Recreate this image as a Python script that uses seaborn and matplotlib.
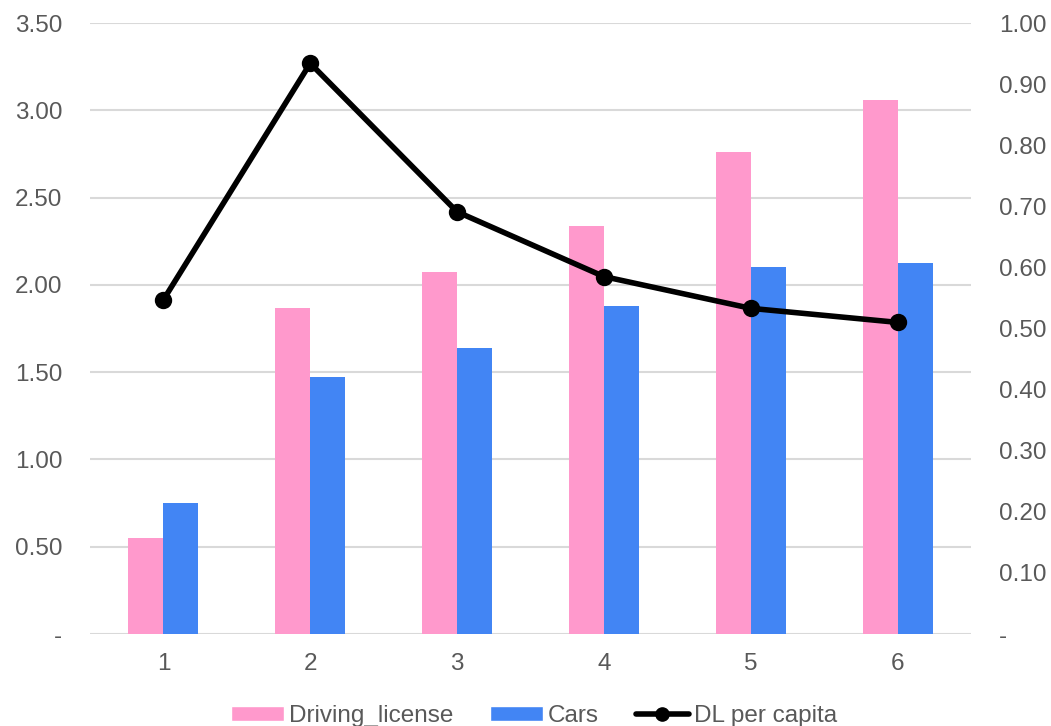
import matplotlib
matplotlib.use("Agg")
import matplotlib.pyplot as plt
import seaborn as sns
import pandas as pd
from matplotlib.ticker import FuncFormatter, MultipleLocator
from matplotlib.patches import Patch
from matplotlib.lines import Line2D

categories = ["1", "2", "3", "4", "5", "6"]
driving_license = [0.548, 1.867, 2.072, 2.337, 2.763, 3.061]
cars = [0.752, 1.474, 1.638, 1.879, 2.102, 2.127]
dl_per_capita = [0.547, 0.934, 0.691, 0.585, 0.533, 0.510]

PINK = "#FF99CC"
BLUE = "#4285F4"
TXT = "#595959"
GRID = "#D9D9D9"
FS = 17.5

sns.set_theme(style="white")
plt.rcParams["font.family"] = ["Liberation Sans", "DejaVu Sans"]

df = pd.DataFrame({
    "cat": categories * 2,
    "value": driving_license + cars,
    "series": ["Driving_license"] * 6 + ["Cars"] * 6,
})

fig = plt.figure(figsize=(10.51, 7.26), dpi=100)
ax = fig.add_axes([90 / 1051, 1 - 634 / 726, (971 - 90) / 1051, (634 - 23) / 726])

sns.barplot(data=df, x="cat", y="value", hue="series", order=categories,
            hue_order=["Driving_license", "Cars"], palette=[PINK, BLUE],
            width=0.476, gap=0, saturation=1, linewidth=0, ax=ax, legend=False)

ax.set_ylim(0, 3.5)
ax.yaxis.set_major_locator(MultipleLocator(0.5))
fmt = FuncFormatter(lambda v, p: "-" if abs(v) < 1e-9 else f"{v:.2f}")
ax.yaxis.set_major_formatter(fmt)
ax.grid(axis="y", color=GRID, linewidth=1.5)
ax.set_axisbelow(True)
for s in ax.spines.values():
    s.set_visible(False)
ax.set_xlabel("")
ax.set_ylabel("")
ax.tick_params(axis="both", length=0, colors=TXT, labelsize=FS)
ax.tick_params(axis="y", pad=20)
ax.tick_params(axis="x", pad=14)

ax2 = ax.twinx()
sns.pointplot(x=categories, y=dl_per_capita, order=categories, color="black",
              markers="o", linestyles="-", ax=ax2, markersize=9.5, linewidth=4)
ax2.set_ylim(0, 1.0)
ax2.yaxis.set_major_locator(MultipleLocator(0.1))
ax2.yaxis.set_major_formatter(fmt)
for s in ax2.spines.values():
    s.set_visible(False)
ax2.grid(False)
ax2.set_ylabel("")
ax2.tick_params(axis="y", length=0, colors=TXT, labelsize=FS, pad=20)
ax.set_xlim(-0.5, 5.5)
ax2.set_xlim(-0.5, 5.5)

handles = [
    Patch(facecolor=PINK, label="Driving_license"),
    Patch(facecolor=BLUE, label="Cars"),
    Line2D([0], [0], color="black", linewidth=4, marker="o", markersize=9.5,
           label="DL per capita"),
]
leg = fig.legend(handles=handles, loc="lower center", ncol=3, frameon=False,
                 bbox_to_anchor=(0.508, -0.032), fontsize=FS, handlelength=2.2,
                 handleheight=0.55, handletextpad=0.2, columnspacing=1.5)
for t in leg.get_texts():
    t.set_color(TXT)

fig.savefig("out.png", dpi=100)
